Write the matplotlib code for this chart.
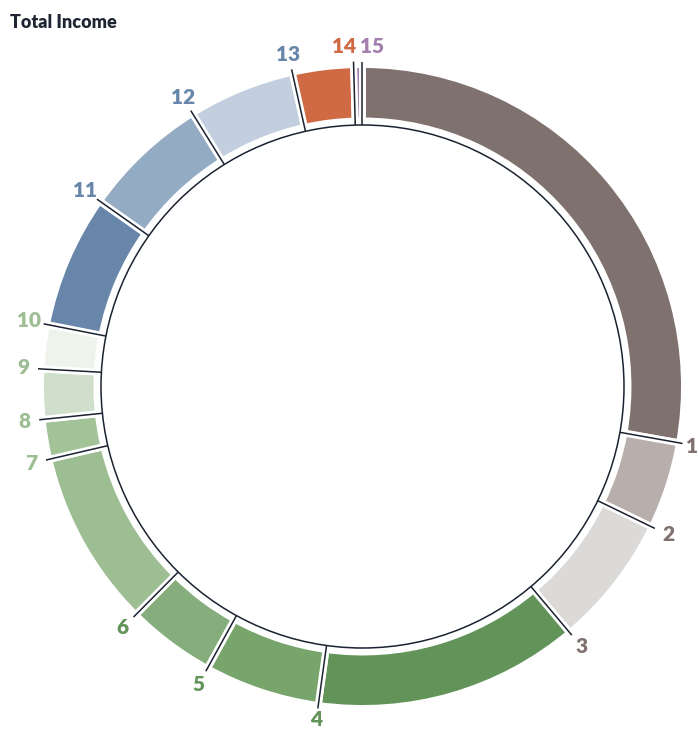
import numpy as np
import matplotlib
matplotlib.use("Agg")
import matplotlib.pyplot as plt
from matplotlib.patches import Circle

plt.rcParams['font.family'] = ['Lato', 'DejaVu Sans']

# segment data, clockwise from the top
labels = [str(i) for i in range(1, 16)]
values = [27.8, 4.39, 6.67, 13.33, 5.81, 4.44, 8.92, 2.0, 2.5, 2.22, 6.69, 6.36, 5.36, 3.06, 0.44]
colors = ['#7f716e', '#b8aeab', '#dcdad9',
          '#62945a', '#77a56c', '#86ad7c',
          '#9dbd93', '#a2c298', '#d0dfcc', '#eef3ec',
          '#6886aa', '#94abc4', '#c3cfde',
          '#d06a44', '#a37fb0']
label_colors = ['#7f716e'] * 3 + ['#62945a'] * 3 + ['#9dbd93'] * 4 + ['#6886aa'] * 3 + ['#d06a44', '#a37fb0']

W, H = 699, 731
fig = plt.figure(figsize=(W / 100, H / 100), dpi=100)
ax = fig.add_axes([0, 0, 1, 1])

cx, cy = 362.5, H - 386.5
line_col = '#1b2230'

ax.pie(values, colors=colors, startangle=90, counterclock=False,
       radius=322, center=(cx, cy), frame=True,
       wedgeprops=dict(width=56.5, edgecolor='white', linewidth=5, joinstyle='miter'))

ax.add_patch(Circle((cx, cy), 261.5, fill=False, ec=line_col, lw=1.1))

# boundary angles (end of each segment, clockwise from top)
theta = np.radians(np.cumsum(values) / np.sum(values) * 360)

for th in theta:
    r0, r1 = 261.5, 325
    ax.plot([cx + r0 * np.sin(th), cx + r1 * np.sin(th)],
            [cy + r0 * np.cos(th), cy + r1 * np.cos(th)],
            color=line_col, lw=1.1, solid_capstyle='butt')

# label positions, pushed apart when they collide, kept inside the figure
r_lab = 340
lx = list(cx + r_lab * np.sin(theta))
ly = list(cy + r_lab * np.cos(theta))
for i in range(len(lx) - 1):
    dx = lx[i + 1] - lx[i]
    if abs(dx) < 28 and abs(ly[i + 1] - ly[i]) < 16:
        shift = (28 - abs(dx)) / 2
        lx[i] -= shift
        lx[i + 1] += shift
lx = [min(x, W - 7) for x in lx]
ly = [max(y, 11) for y in ly]

for lab, x, y, c in zip(labels, lx, ly, label_colors):
    ax.text(x, y, lab, ha='center', va='center', fontsize=15,
            fontweight='heavy', color=c)

ax.set_xlim(0, W)
ax.set_ylim(0, H)
ax.set_aspect('equal')
ax.axis('off')

fig.text(10 / W, 1 - 23 / H, 'Total Income', ha='left', va='center',
         fontsize=13, fontweight='heavy', color='#1f2533')

fig.savefig('out.png', dpi=100)
